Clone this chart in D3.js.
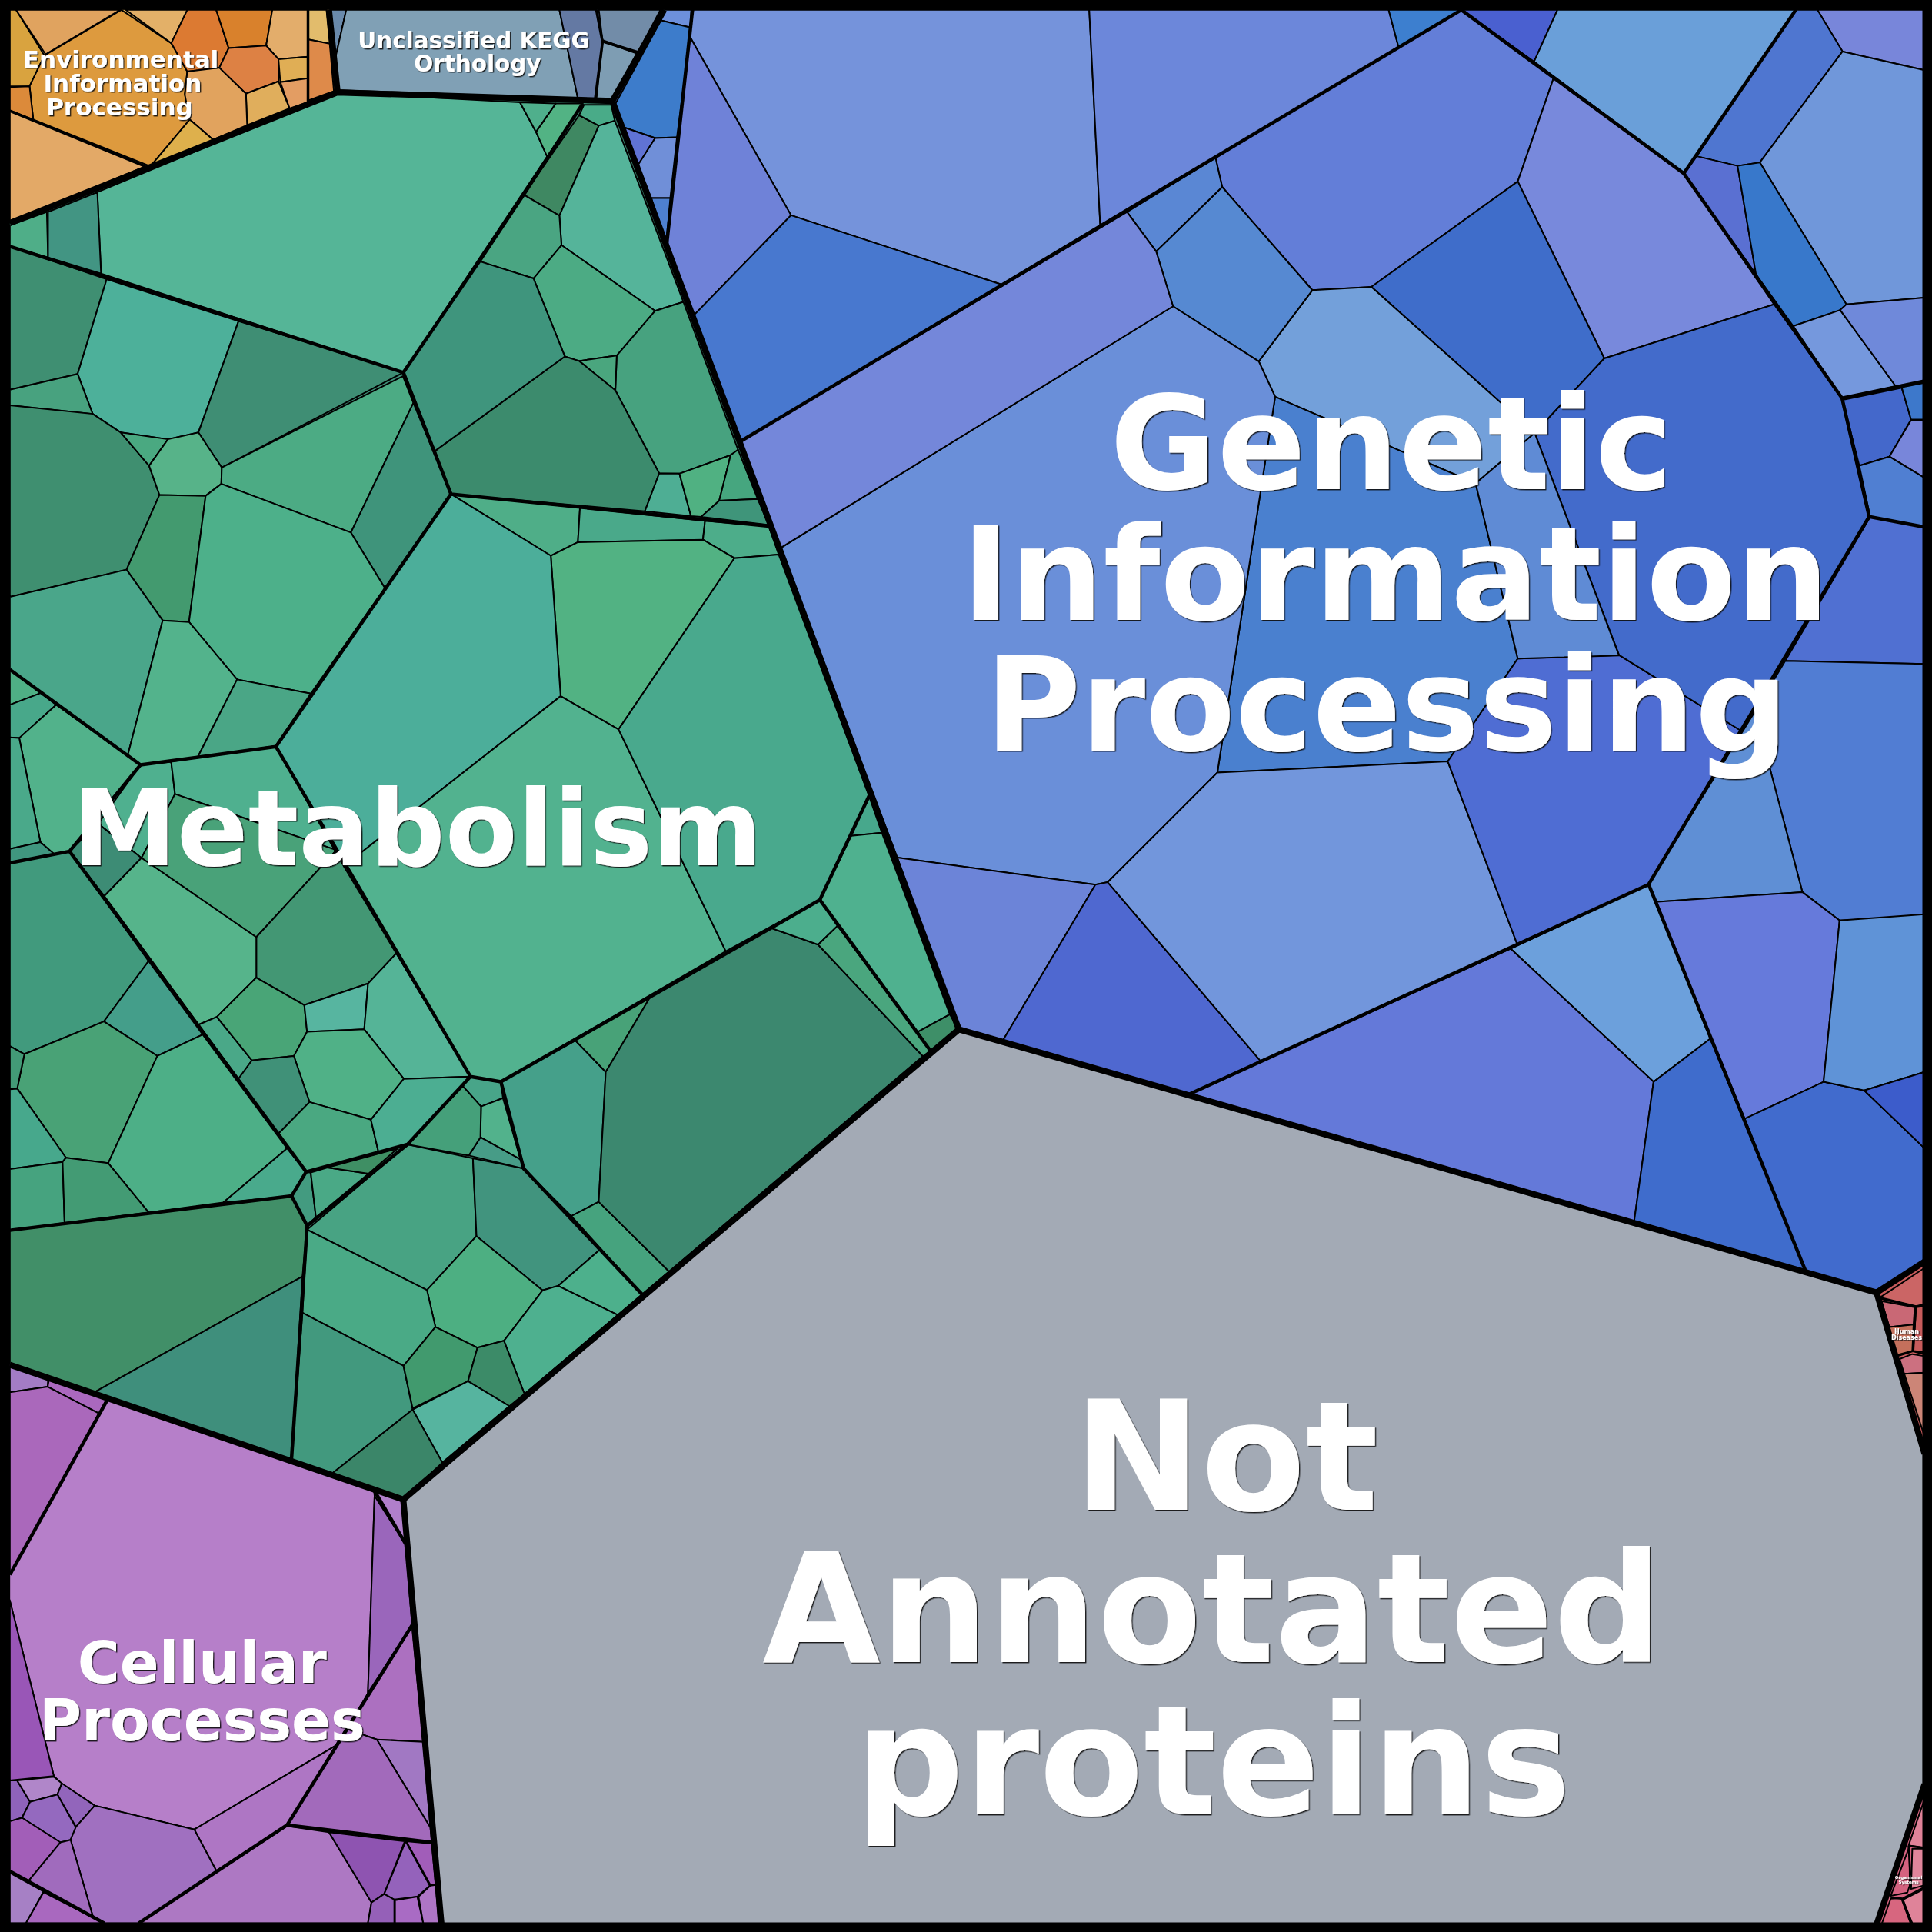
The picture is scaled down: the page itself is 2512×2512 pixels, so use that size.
<!DOCTYPE html>
<html>
<head>
<meta charset="utf-8">
<style>html,body{margin:0;padding:0;background:#000}svg{display:block}</style>
<script src="https://cdn.jsdelivr.net/npm/d3@7"></script>
</head>
<body>
<div id="chart"></div>
<script>
// Voronoi treemap of KEGG functional categories.
// Every cell is a polygon in map units (0-1568 on both axes).

const notAnnotatedOutline = [[778,836],[1523,1049],[1561,1180],[1561,1448],[1523,1562],[358,1562],[327.3,1217]];

const metabolismOutline = [[274,75],[497,82],[778.2,835.4],[327.3,1217],[8,1107.6],[8,181]];
const metabolismCells = [
  [[79,156],[274,75],[422,83],[435,107],[444,127],[327.4,302.3],[82,222]],
  [[451,84],[473,84],[444,127],[435,107]],
  [[422,83],[451,84],[435,107]],
  [[8,183],[38,172],[39,209],[8,200]],
  [[39,172],[79,156],[82,222],[39,209]],
  [[470,93.5],[486,102],[454,175],[425,158]],
  [[474,85],[496,85],[499,98],[486,102],[470,93.5]],
  [[499,98],[554.6,245],[531.7,252.3],[455.7,199],[454,175],[486,102]],
  [[425,158],[454,175],[455.7,199],[433,226],[389,212]],
  [[455.7,199],[531.7,252.3],[500.5,288.6],[470,293],[458.4,289.3],[433,226]],
  [[531.7,252.3],[554.6,245],[599,365],[593,369.4],[551.4,384.4],[535,384.2],[499.4,316.8],[500.5,288.6]],
  [[470,293],[500.5,288.6],[499.4,316.8]],
  [[353,366],[458.4,289.3],[470,293],[499.4,316.8],[535,384.2],[523.3,415],[366,401]],
  [[327.4,302.3],[389,212],[433,226],[458.4,289.3],[353,366]],
  [[535,384.2],[551.4,384.4],[560.8,418.8],[523.3,415]],
  [[551.4,384.4],[593,369.4],[583.7,406.4],[569,419.5],[560.8,418.8]],
  [[593,369.4],[599,365],[615,405],[583.7,406.4]],
  [[583.7,406.4],[615,405],[624,426],[569,419.5]],
  [[8,200],[86.6,226.6],[63,303.5],[8,316.3]],
  [[86.6,226.6],[193.6,260.7],[161,351],[136.3,356.5],[98,351],[75.2,335.9],[63,303.5]],
  [[193.6,260.7],[327.4,302.3],[180,379.5],[161,351]],
  [[8,316.3],[63,303.5],[75.2,335.9],[8,329]],
  [[8,329],[75.2,335.9],[98,351],[121,378],[129.4,401.6],[102.7,462.3],[8,484.4]],
  [[98,351],[136.3,356.5],[121,378]],
  [[136.3,356.5],[161,351],[180,379.5],[179.6,392.7],[166.9,402.4],[129.4,401.6],[121,378]],
  [[180,379.5],[327,305.3],[335.5,327],[284.8,432.2],[179.6,392.7]],
  [[335.5,327],[365.6,400.3],[312.4,477.3],[284.8,432.2]],
  [[129.4,401.6],[166.9,402.4],[153.4,504.8],[132,503.5],[102.7,462.3]],
  [[166.9,402.4],[179.6,392.7],[284.8,432.2],[312.4,477.3],[252.2,562.9],[192.4,551.4],[153.4,504.8]],
  [[8,484.4],[102.7,462.3],[132,503.5],[103.7,612.8],[8,543.4]],
  [[132,503.5],[153.4,504.8],[192.4,551.4],[160.5,614.4],[114,620.8],[103.7,612.8]],
  [[192.4,551.4],[252.2,562.9],[223.6,605.5],[160.5,614.4]],
  [[8,543.4],[33,562.5],[8,572]],
  [[8,572],[33,562.5],[45.7,572],[15.6,599],[8,598.5]],
  [[15.6,599],[45.7,572],[114,620.8],[56.4,690.9],[43.9,693.5],[32.8,683.5]],
  [[8,598.5],[15.6,599],[32.8,683.5],[8,689]],
  [[8,689],[32.8,683.5],[43.9,693],[8,700]],
  [[114,620.8],[138.9,618.2],[142,644.4],[114.8,696.3],[82.5,670.8],[80,668]],
  [[56.4,690.9],[80,668],[82.5,670.8],[114.8,696.3],[84.7,727.2]],
  [[138.9,618.2],[223.6,605.5],[273,690],[142,644.4]],
  [[142,644.4],[273,690],[208,760.6],[114.8,696.3]],
  [[208,760.6],[273,690],[321.7,773.7],[298.7,798.2],[247,815.7],[208,793.4]],
  [[84.7,727.2],[114.8,696.3],[208,760.6],[208,793.4],[176,825.3],[161.2,831.6]],
  [[161.2,831.6],[176,825.3],[204.4,860.6],[193.5,875.6]],
  [[176,825.3],[208,793.4],[247,815.7],[249.2,837.4],[238.5,857],[204.4,860.6]],
  [[247,815.7],[298.7,798.2],[295.6,835.4],[249.2,837.4]],
  [[298.7,798.2],[321.7,773.7],[381.8,873.7],[327.7,875.6],[295.6,835.4]],
  [[249.2,837.4],[295.6,835.4],[327.7,875.6],[301,908.7],[251.2,894.4],[238.5,857]],
  [[193.5,875.6],[204.4,860.6],[238.5,857],[251.2,894.4],[225.8,920.2]],
  [[225.8,920.2],[251.2,894.4],[301,908.7],[307.2,935],[248.5,951.1]],
  [[301,908.7],[327.7,875.6],[381.8,873.7],[330.7,928.8],[307.2,935]],
  [[8,700],[56.4,690.9],[120.6,780],[84.3,829],[19.8,855.5],[8,849]],
  [[120.6,780],[164.5,839.6],[127.7,857],[84.3,829]],
  [[19.8,855.5],[84.3,829],[127.7,857],[87.8,944],[53.5,939.6],[14,883.5]],
  [[8,849],[19.8,855.5],[14,883.5],[8,884]],
  [[127.7,857],[164.5,839.6],[233,932],[181.2,976],[120.6,984],[87.8,944]],
  [[233,932],[248.5,951.1],[236.7,970.6],[181.2,976]],
  [[8,884],[14,883.5],[53.5,939.6],[50.8,943],[8,948.8]],
  [[8,948.8],[50.8,943],[52.4,992.5],[8,998.5]],
  [[53.5,939.6],[87.8,944],[120.6,984],[52.4,992.5],[50.8,943]],
  [[8,998.5],[236.7,970.6],[249.3,994.9],[245.5,1036],[76.4,1130],[8,1107.6]],
  [[76.4,1130],[245.5,1036],[236.5,1185.4]],
  [[248.5,951.1],[252.2,951.7],[256.4,987.9],[249.3,994.9],[236.7,970.6]],
  [[252.2,951.7],[265.8,947.5],[299.1,952.5],[256.4,987.9]],
  [[265.8,947.5],[322.6,932.2],[299.1,952.5]],
  [[249.3,998],[330.7,928.8],[383.8,940],[386.7,1003.2],[346.5,1047]],
  [[383.8,940],[425,948.4],[486.7,1014.4],[452.9,1043.6],[440.3,1047.3],[386.7,1003.2]],
  [[452.9,1043.6],[486.7,1014.4],[521.2,1050.6],[501.5,1067.3]],
  [[386.7,1003.2],[440.3,1047.3],[409,1088.2],[387.5,1093.8],[353.4,1077],[346.5,1047]],
  [[440.3,1047.3],[452.9,1043.6],[501.5,1067.3],[425.7,1131.4],[409,1088.2]],
  [[249.3,998],[346.5,1047],[353.4,1077],[327.5,1108.5],[245.5,1065.4]],
  [[245.5,1065.4],[327.5,1108.5],[334.9,1144],[270,1195.5],[236.5,1185.4]],
  [[327.5,1108.5],[353.4,1077],[387.5,1093.8],[379.8,1121],[334.9,1143]],
  [[387.5,1093.8],[409,1088.2],[425.7,1131.4],[413.4,1141.2],[379.8,1121]],
  [[334.9,1144],[379.8,1121],[413.4,1141.2],[359,1187]],
  [[270,1195.5],[334.9,1144],[359,1187],[327.3,1217]],
  [[366,401],[470.7,412],[469,440],[447,451]],
  [[470.7,412],[572.2,422.7],[570.5,438],[469,440]],
  [[572.2,422.7],[624,427],[632,450],[596,453],[570.5,438]],
  [[447,451],[469,440],[570.5,438],[596,453],[502,592],[455,565]],
  [[366,401],[447,451],[455,565],[279,703],[224,606]],
  [[455,565],[502,592],[589,772],[406.5,877.9],[381.8,873.7],[279,703]],
  [[596,453],[632,450],[705.3,646],[665.4,730.3],[589,772],[502,592]],
  [[381.8,873.7],[406.5,877.9],[408.2,891.2],[390.4,898],[375.6,881.5]],
  [[390.4,898],[408.2,891.2],[422.5,941],[389.9,923]],
  [[389.9,923],[422.5,941],[425,948.4],[380.5,937.8]],
  [[375.6,881.5],[390.4,898],[389.9,923],[380.5,937.8],[330.7,928.8]],
  [[406.5,877.9],[466.9,844.4],[491.6,870],[485.9,975.4],[463.7,987],[425,948.4]],
  [[466.9,844.4],[528.6,807.6],[491.6,870]],
  [[463.7,987],[485.9,975.4],[543,1032],[521.2,1050.6]],
  [[528.6,807.6],[625.8,753.2],[664,766.7],[749,857.2],[543,1032],[485.9,975.4],[491.6,870]],
  [[625.8,753.2],[665.4,730.3],[679.7,751.5],[664,766.7]],
  [[664,766.7],[679.7,751.5],[755.3,853],[749,857.2]],
  [[705.3,646],[715.7,675.8],[690.8,678.3]],
  [[690.8,678.3],[715.7,675.8],[770.9,823.3],[744.9,837.5],[665.4,730.3]],
  [[744.9,837.5],[770.9,823.3],[778.2,835.4],[755.3,853]]
];
const metabolismFills = [
  "#55b597","#52b384","#4faf8c","#4fae88","#429583","#3f8862","#49ab88","#55b49a","#4aa582","#4cab84",
  "#47a27f","#4aa67e","#3c8b6d","#3f957d","#4eae94","#50b182","#46a67f","#3f957a","#3f8f72","#4db09a",
  "#3f8e74","#48a27f","#3f8f70","#4aa981","#57b389","#4cab84","#3f947b","#439a6f","#4db08a","#4aa68a",
  "#53b38c","#4aa686","#4fb085","#48a88a","#52b28b","#4aa98a","#40967f","#4fb08f","#3d8c75","#4fb08f",
  "#49a279","#439774","#56b48b","#4aa888","#49a577","#57b5a0","#55b497","#50b187","#409178","#4aa881",
  "#4cae92","#419a7d","#449e8a","#49a276","#439b77","#4daf87","#49aa8c","#47a88c","#46a37f","#439b74",
  "#418f68","#3f8f7c","#439b80","#4aa986","#3f8f64","#48a383","#41947e","#4db08c","#4daf82","#4eb08f",
  "#4aaa86","#42997e","#419a6e","#3c8b68","#56b49f","#3b8669","#4fae88","#4aa98a","#4dad8a","#52b283",
  "#4cae9a","#52b28f","#49a98d","#48a589","#52b28c","#479c87","#45a07a","#45a08a","#48a278","#46a37e",
  "#3c886f","#4cae8d","#4aa67e","#47a88c","#4fb18f","#3e8f68"
];
const metabolismDivisions = [
  [[8,200],[327.4,302.3],[366,401],[624,427]],
  [[473,84],[425,158],[389,212],[327.4,302.3]],
  [[366,401],[224,606],[114,620.8],[8,543.4]],
  [[114,620.8],[56.4,690.9],[8,700.4]],
  [[224,606],[381.8,873.7],[406.5,877.9],[425,948.4],[521.2,1050.6]],
  [[56.4,690.9],[248.5,951.1],[330.7,928.8],[381.8,873.7]],
  [[8,998.5],[236.7,970.6],[248.5,951.1]],
  [[236.7,970.6],[249.3,994.9],[330.7,928.8]],
  [[249.3,994.9],[236.5,1185.4]],
  [[406.5,877.9],[625.8,753.2],[665.4,730.3],[705.3,646]],
  [[665.4,730.3],[755.3,853]]
];

const geneticOutline = [[539,8],[1562,8],[1562,1024],[1523,1049],[778.2,835.4],[497,82]];
const geneticCells = [
  [[539,8],[562,8],[561,22.5],[536.4,16.6]],
  [[536.4,16.6],[561,22.5],[549.4,111.4],[531.7,112],[506.7,103.5],[499,85]],
  [[506.7,103.5],[531.7,112],[517.7,134]],
  [[531.7,112],[549.4,111.4],[544,160.8],[528.6,160.8],[517.7,134]],
  [[528.6,160.8],[544,160.8],[540.6,198.6]],
  [[561,8],[884,8],[893,184],[813,231],[642,174.7],[560,30]],
  [[560,30],[642,174.7],[563,256],[541,199]],
  [[642,174.7],[813,231],[601.4,358],[563,256]],
  [[884,8],[1127,8],[1135,38],[893,184]],
  [[1127,8],[1186,8],[1135,38]],
  [[1186,8],[1264,8],[1245,50]],
  [[1264,8],[1457.5,8],[1366.5,140.7],[1245,50]],
  [[1186,8],[1261,63],[1231.8,147.2],[1113,232.8],[1065.1,235.5],[991.9,151.7],[986.5,128]],
  [[1261,63],[1366.5,140.7],[1439.8,247],[1302,290.9],[1231.8,147.2]],
  [[1113,232.8],[1231.8,147.2],[1302,290.9],[1245.5,351.4]],
  [[1065.1,235.5],[1113,232.8],[1245.5,351.4],[1197.6,392.3],[1034.9,322],[1021.6,293.3]],
  [[938.3,204],[991.9,151.7],[1065.1,235.5],[1021.6,293.3],[952,248.6]],
  [[914.7,172],[986.5,128],[991.9,151.7],[938.3,204]],
  [[1034.9,322],[1197.6,392.3],[1231.8,534.5],[1175,618],[988,627]],
  [[952,248.6],[1021.6,293.3],[1034.9,322],[988,627],[899,716],[889,718],[728.2,696],[633,445]],
  [[601.4,358],[914.7,172],[938.3,204],[952,248.6],[633,445]],
  [[728.2,696],[889,718],[813,846],[778.2,835.4]],
  [[889,718],[899,716],[1023,861],[963,889],[813,846]],
  [[899,716],[988,627],[1175,618],[1232,768],[1023,861]],
  [[1175,618],[1231.8,534.5],[1314,531.6],[1412.9,593],[1338,717.8],[1232,768]],
  [[1245.5,351.4],[1302,290.9],[1439.8,247],[1495,323.2],[1517,419.3],[1412.9,593],[1314,531.6]],
  [[1197.6,392.3],[1245.5,351.4],[1314,532],[1231.8,534.5]],
  [[1518,419.2],[1562,427.6],[1562,538.9],[1448.9,536.4]],
  [[1448.9,536.4],[1562,538.9],[1562,744],[1493,747],[1462.8,724],[1424.3,577.4]],
  [[1424.3,577.4],[1462.8,724],[1343,732],[1338,717.8]],
  [[1343,732],[1462.8,724],[1493,747],[1480,878],[1416,908]],
  [[1416,908],[1480,878],[1513,885],[1562,932],[1562,1024],[1523,1049],[1466,1033]],
  [[1480,878],[1493,747],[1562,742],[1562,870],[1513,885]],
  [[1513,885],[1562,870],[1562,932]],
  [[1226,770],[1338,717.8],[1388,843],[1342,878]],
  [[963,889],[1226,770],[1342,878],[1326,993]],
  [[1342,878],[1388,843],[1466,1033],[1326,993]],
  [[1475,8],[1562,8],[1562,57],[1495.4,41.8]],
  [[1457.5,8],[1475,8],[1495.4,41.8],[1428.3,131.8],[1410.2,134.6],[1377,126.8]],
  [[1495.4,41.8],[1562,57],[1562,241.5],[1498.5,247],[1428.3,131.8]],
  [[1377,126.8],[1410.2,134.6],[1425.2,222.9],[1366.5,140.7]],
  [[1410.2,134.6],[1428.3,131.8],[1498.5,247],[1493.5,251.6],[1455.4,264.7],[1425.2,222.9]],
  [[1455.4,264.7],[1493.5,251.6],[1538.6,313.5],[1495,323.2]],
  [[1493.5,251.6],[1498.5,247],[1562,241.5],[1562,309.3],[1538.6,313.5]],
  [[1495.4,324.6],[1543.4,314.8],[1551,340.5],[1533.4,370.6],[1509,378]],
  [[1543.4,314.3],[1562,310.7],[1562,340.5],[1551,340.5]],
  [[1551,341],[1562,341],[1562,387.9],[1533.4,370.6]],
  [[1509,378],[1533.4,370.6],[1562,387.9],[1562,427.7],[1517.8,419.3]]
];
const geneticFills = [
  "#6d90dc","#3d7ccb","#6073d4","#708fd8","#4e80d0","#7593db","#6f82d8","#4878cf","#6c87da","#3d7fcf",
  "#4a60d0","#6a9fd9","#637ed8","#7889dc","#3f6dca","#73a0da","#5689d2","#5a87d4","#4a80cf","#6a8fd9",
  "#7487da","#6c84d8","#4f68d0","#7296dc","#4f6dd3","#436bcb","#5f8bd5","#5070d2","#517dd3","#5f8fd5",
  "#667adb","#416bcd","#5f93d7","#3c5ccb","#6ca0dc","#6479d9","#3f6ccc","#7886da","#4f76d0","#7097da",
  "#5a70d2","#3878cb","#7598dd","#6f89da","#4468cb","#3d78cb","#7886da","#507fd2"
];
const geneticDivisions = [
  [[562,8],[541,199]],
  [[1186,8],[601.4,358]],
  [[1186,8],[1366.5,140.7],[1495,323.2],[1517,419.3],[1338,717.8],[1466,1033]],
  [[1457.5,8],[1366.5,140.7]],
  [[1495,323.2],[1562,309.3]],
  [[1517,419.3],[1562,427.7]],
  [[963,889],[1338,717.8]]
];

const cellularOutline = [[8,1107.6],[327.3,1217],[358.3,1562],[8,1562]];
const cellularCells = [
  [[8,1109],[39,1118.5],[38.7,1125.5],[8,1130]],
  [[40,1118.5],[87.2,1134.6],[80.7,1147.4],[38.7,1125.5]],
  [[8,1130],[38.7,1125.5],[80.7,1147.4],[8,1278]],
  [[87.2,1134.6],[303.4,1208.7],[304,1214],[298.6,1374],[291.4,1387.5],[273.5,1416],[157.7,1484.8],[76.9,1465.4],[49.7,1447.4],[43.7,1441.4],[7.6,1297.7],[7.6,1278.2]],
  [[8,1299],[43.7,1441.4],[8,1445]],
  [[303.4,1208.7],[327.3,1217],[329.2,1252.8]],
  [[304,1214],[329.2,1253.4],[334.4,1318.7],[298.6,1374]],
  [[334.4,1320],[343.5,1413.6],[305.8,1411.8],[280.7,1403]],
  [[305.8,1411.8],[343.5,1413.6],[349.3,1483.3]],
  [[280.7,1403],[305.8,1411.8],[349.3,1483.3],[350.4,1495.3],[233,1481.2]],
  [[274.7,1415.4],[157.7,1484.8],[175.6,1518.4],[233,1481.2]],
  [[233,1482],[267,1487],[301.5,1544],[298.6,1561],[112.3,1561]],
  [[267,1487],[328.5,1494.4],[311.8,1537],[301.5,1544]],
  [[329.7,1494.4],[350.4,1496.2],[353.6,1529.7],[349.3,1529.7]],
  [[329.2,1494.4],[348.8,1530.4],[338.7,1539.3],[320,1541.7],[311.8,1537.2]],
  [[311.8,1537.2],[320,1541.7],[320,1561],[298.6,1561],[301.5,1544]],
  [[320.6,1542.3],[338.7,1539.3],[343.5,1561],[320.6,1561]],
  [[339.7,1539.3],[349.3,1530.4],[353.6,1529.7],[356,1561],[343.5,1561]],
  [[8,1445],[13.9,1445],[24.4,1462.4],[17.9,1475.3],[8,1478.2]],
  [[13.9,1445],[43.7,1442],[50.2,1447.4],[46.6,1456.4],[24.4,1462.4]],
  [[50.2,1447.4],[76.9,1465.4],[61.6,1482.7],[46.6,1456.4]],
  [[24.4,1462.4],[46.6,1456.4],[61.6,1483.3],[57.3,1493.2],[49,1495.3],[17.9,1475.3]],
  [[76.9,1465.4],[157.7,1484.8],[175.6,1518.4],[112.3,1561],[84.8,1561],[75.3,1555],[57.3,1493.2],[61.6,1482.7]],
  [[8,1478.2],[17.9,1475.3],[49,1495.3],[23.4,1526.2],[8,1518.7]],
  [[49,1495.3],[57.3,1493.2],[75.3,1555.2],[35.4,1535.1],[23.4,1526.2]],
  [[8,1520],[35.4,1535.1],[21,1561],[8,1561]],
  [[35.4,1535.7],[84.8,1561],[21,1561]]
];
const cellularFills = [
  "#a37cc5","#aa68be","#aa68bb","#b67fc9","#9956b7","#b07fcb","#9a66bb","#ac70c0","#a178c3","#a26abb",
  "#ae76c4","#ad78c3","#8e54b1","#a15db9","#9462bb","#9560b8","#a96bc4","#ae75c5","#8f63bb","#b086c9",
  "#9265bb","#9469bf","#a070c0","#a25eb8","#a06bbd","#a680c5","#a968bf"
];
const cellularDivisions = [
  [[87.2,1136],[8,1278]],
  [[8,1518.7],[84.8,1561]],
  [[112.3,1561],[233,1481.2],[334.4,1319]],
  [[233,1481.2],[350.4,1495.3]],
  [[303.4,1209],[329.2,1253]]
];

const environmentalOutline = [[8,8],[267,8],[274,75],[8,181]];
const environmentalCells = [
  [[8,8],[13,8],[36,45],[24,70],[8,70]],
  [[13,8],[97.5,8],[37,44]],
  [[98.5,8],[139,35],[152,58],[150,76],[154,97],[122,135],[27,97],[24,70],[36,45]],
  [[102,8],[152,8],[139,35]],
  [[152,8],[175.5,8],[185.6,39],[178,55],[152,58],[139,35]],
  [[175.5,8],[221,8],[216,37],[185.6,39]],
  [[221,8],[250,8],[250,46],[226,48],[216,37]],
  [[185.6,39],[216,37],[226,48],[226,66],[199.6,76],[178,55]],
  [[226,48],[250,46],[250,63.5],[227.5,66.6]],
  [[227.5,66.6],[250,63.5],[250,83],[235,88]],
  [[199.6,76],[226,66],[235,88],[200.6,101.5]],
  [[152,58],[178,55],[199.6,76],[200.6,101.5],[173,113.4],[154,97],[150,77]],
  [[154,97],[173,113.4],[122,135]],
  [[250,8],[265,8],[267.6,35.4],[250,32]],
  [[250,32],[267.6,35.4],[271,74],[250,81.6]],
  [[8,70.7],[24,70],[27,97],[8,89.5]],
  [[8,90],[118,135],[8,180.6]]
];
const environmentalFills = [
  "#d9a33f","#e0a35f","#dd9a3e","#e3b068","#dc7a32","#d9812c","#e3ad6b","#dd8144","#e0ae55","#e39d63",
  "#e0ae5c","#e1a35e","#deb04c","#e2bc6c","#de8a4a","#dc8a3a","#e3a967"
];
const environmentalDivisions = [
  [[250,8],[250,83]],
  [[8,90],[118,135]]
];

const unclassifiedOutline = [[267,8],[539,8],[497,82],[274,75]];
const unclassifiedCells = [
  [[268,8],[281,8],[272,48]],
  [[281,8],[454,8],[469,80],[274,73],[272,48]],
  [[454,8],[484,8],[489,34],[483,81],[469,80]],
  [[486,8],[536,8],[518,42],[489,33]],
  [[489,34],[517,43],[496,82],[484,81]]
];
const unclassifiedFills = ["#6a8aab","#80a0b5","#6479a3","#728ca8","#7e9db3"];
const unclassifiedDivisions = [
  [[484,8],[489,34],[483,81]],
  [[489,33],[517,43]]
];

const humanOutline = [[1523,1049],[1562,1024],[1562,1180]];
const humanCells = [
  [[1526,1053],[1562,1029],[1562,1058.4],[1555,1060]],
  [[1527,1056],[1554,1061],[1553,1075],[1533.4,1077]],
  [[1533.4,1077],[1553,1075],[1552,1096.4],[1538.6,1100]],
  [[1555,1061],[1562,1060],[1562,1097.5],[1553,1096.4]],
  [[1541.7,1103],[1552,1099],[1562,1100.7],[1562,1114],[1545.5,1115]],
  [[1545.5,1115],[1562,1114],[1562,1166]]
];
const humanFills = ["#cb6565","#c96875","#c4705c","#c75b5b","#cc7080","#cc8577"];
const humanDivisions = [
  [[1526,1054],[1555,1060.5],[1562,1059]],
  [[1555,1060.5],[1552.5,1096.5]],
  [[1538.5,1101],[1552.5,1096.5],[1562,1099]]
];

const organismalOutline = [[1562,1448],[1562,1562],[1523,1562]];
const organismalCells = [
  [[1562,1460],[1562,1499.5],[1549,1497.7]],
  [[1552,1500.5],[1562,1500.5],[1562,1530],[1551,1533]],
  [[1549.6,1499],[1550,1530],[1548,1536],[1534.5,1538.6]],
  [[1544,1542],[1562,1533],[1562,1562],[1552.5,1562]],
  [[1534.5,1541],[1543,1540.5],[1551,1562],[1527,1562]]
];
const organismalFills = ["#df8298","#e0859b","#d4627f","#df8399","#d7667f"];
const organismalDivisions = [
  [[1549,1498],[1562,1500]],
  [[1549,1498],[1551,1531]],
  [[1534.5,1540],[1544,1541],[1562,1531.5]],
  [[1544,1541],[1552,1562]]
];

// Borders between the top-level categories; the frame closes them at the edges.
const categoryBorders = [
  [[8,181],[274,75],[497,82],[539,8]],
  [[267,8],[274,75]],
  [[497,82],[778.2,835.4],[327.3,1217],[8,1107.6]],
  [[327.3,1217],[358.3,1562]],
  [[778.2,835.4],[1523,1049],[1562,1024]],
  [[1523,1049],[1562,1180]],
  [[1562,1448],[1523,1562]]
];

// Category labels: one centre x per line, first baseline in map units, size in pixels.
const categoryLabels = [
  {lines:["Not","Annotated","proteins"], xs:[995,984,984.5], y:1225, size:198},
  {lines:["Genetic","Information","Processing"], xs:[1129,1132.5,1125.5], y:397, size:170},
  {lines:["Metabolism"], xs:[338.5], y:702, size:137},
  {lines:["Cellular","Processes"], xs:[164,164], y:1366, size:75},
  {lines:["Environmental","Information","Processing"], xs:[98,99.5,97], y:54.7, size:31},
  {lines:["Unclassified KEGG","Orthology"], xs:[384.5,387.5], y:39.5, size:29.4},
  {lines:["Human","Diseases"], xs:[1547.4,1547.4], y:1082.6, size:8},
  {lines:["Organismal","Systems"], xs:[1549,1549], y:1525, size:5.5}
];

const groups = [
  {outline:notAnnotatedOutline, cells:[notAnnotatedOutline], fills:["#a3aab5"], divisions:[], heavy:4.5},
  {outline:metabolismOutline, cells:metabolismCells, fills:metabolismFills, divisions:metabolismDivisions, heavy:4.5},
  {outline:geneticOutline, cells:geneticCells, fills:geneticFills, divisions:geneticDivisions, heavy:4.5},
  {outline:cellularOutline, cells:cellularCells, fills:cellularFills, divisions:cellularDivisions, heavy:4.5},
  {outline:environmentalOutline, cells:environmentalCells, fills:environmentalFills, divisions:environmentalDivisions, heavy:3.5},
  {outline:unclassifiedOutline, cells:unclassifiedCells, fills:unclassifiedFills, divisions:unclassifiedDivisions, heavy:3.5},
  {outline:humanOutline, cells:humanCells, fills:humanFills, divisions:humanDivisions, heavy:2.6},
  {outline:organismalOutline, cells:organismalCells, fills:organismalFills, divisions:organismalDivisions, heavy:2.6}
];

const size = 2512;
const x = d3.scaleLinear().domain([0, 1568]).range([0, size]);
const y = d3.scaleLinear().domain([0, 1568]).range([0, size]);
const polygon = d3.line().x(d => x(d[0])).y(d => y(d[1])).curve(d3.curveLinearClosed);
const polyline = d3.line().x(d => x(d[0])).y(d => y(d[1]));

const svg = d3.select("#chart").append("svg")
  .attr("width", size).attr("height", size).attr("viewBox", [0, 0, size, size]);

const shadow = svg.append("defs").append("filter")
  .attr("id", "labelEdge").attr("x", "-5%").attr("y", "-5%").attr("width", "110%").attr("height", "110%");
shadow.append("feDropShadow")
  .attr("dx", 1.4).attr("dy", 1.4).attr("stdDeviation", 0.4)
  .attr("flood-color", "#111").attr("flood-opacity", 0.9);

svg.append("rect").attr("width", size).attr("height", size).attr("fill", "#000");

const blocks = svg.selectAll("g.category").data(groups).join("g").attr("class", "category");

// Underlay in the category's dominant tone, so seams between cells never show black.
blocks.append("path")
  .attr("d", d => polygon(d.outline))
  .attr("fill", d => d.fills[Math.floor(d.fills.length / 2)]);

blocks.selectAll("path.cell")
  .data(d => d.cells.map((pts, i) => ({pts, fill: d.fills[i]})))
  .join("path")
  .attr("class", "cell")
  .attr("d", d => polygon(d.pts))
  .attr("fill", d => d.fill)
  .attr("stroke", "#000").attr("stroke-width", 2).attr("stroke-linejoin", "round");

blocks.selectAll("path.division")
  .data(d => d.divisions.map(pts => ({pts, heavy: d.heavy})))
  .join("path")
  .attr("class", "division")
  .attr("d", d => polyline(d.pts))
  .attr("fill", "none")
  .attr("stroke", "#000").attr("stroke-width", d => d.heavy).attr("stroke-linejoin", "round");

// Category borders go over all cells.
svg.append("g").selectAll("path").data(categoryBorders).join("path")
  .attr("d", polyline)
  .attr("fill", "none")
  .attr("stroke", "#000").attr("stroke-width", 8).attr("stroke-linejoin", "round");

// Frame around the whole map.
svg.append("rect")
  .attr("width", size).attr("height", size)
  .attr("fill", "none").attr("stroke", "#000").attr("stroke-width", 25);

const labels = svg.append("g")
  .attr("font-family", "'DejaVu Sans', sans-serif")
  .attr("font-weight", 700)
  .attr("fill", "#fff")
  .attr("text-anchor", "middle")
  .attr("filter", "url(#labelEdge)");

labels.selectAll("text").data(categoryLabels).join("text")
  .attr("font-size", d => d.size)
  .selectAll("tspan").data(d => d.lines.map((t, i) => ({t, i, d}))).join("tspan")
  .attr("x", e => x(e.d.xs[e.i]))
  .attr("y", e => y(e.d.y) + e.i * e.d.size)
  .text(e => e.t);
</script>
</body>
</html>
